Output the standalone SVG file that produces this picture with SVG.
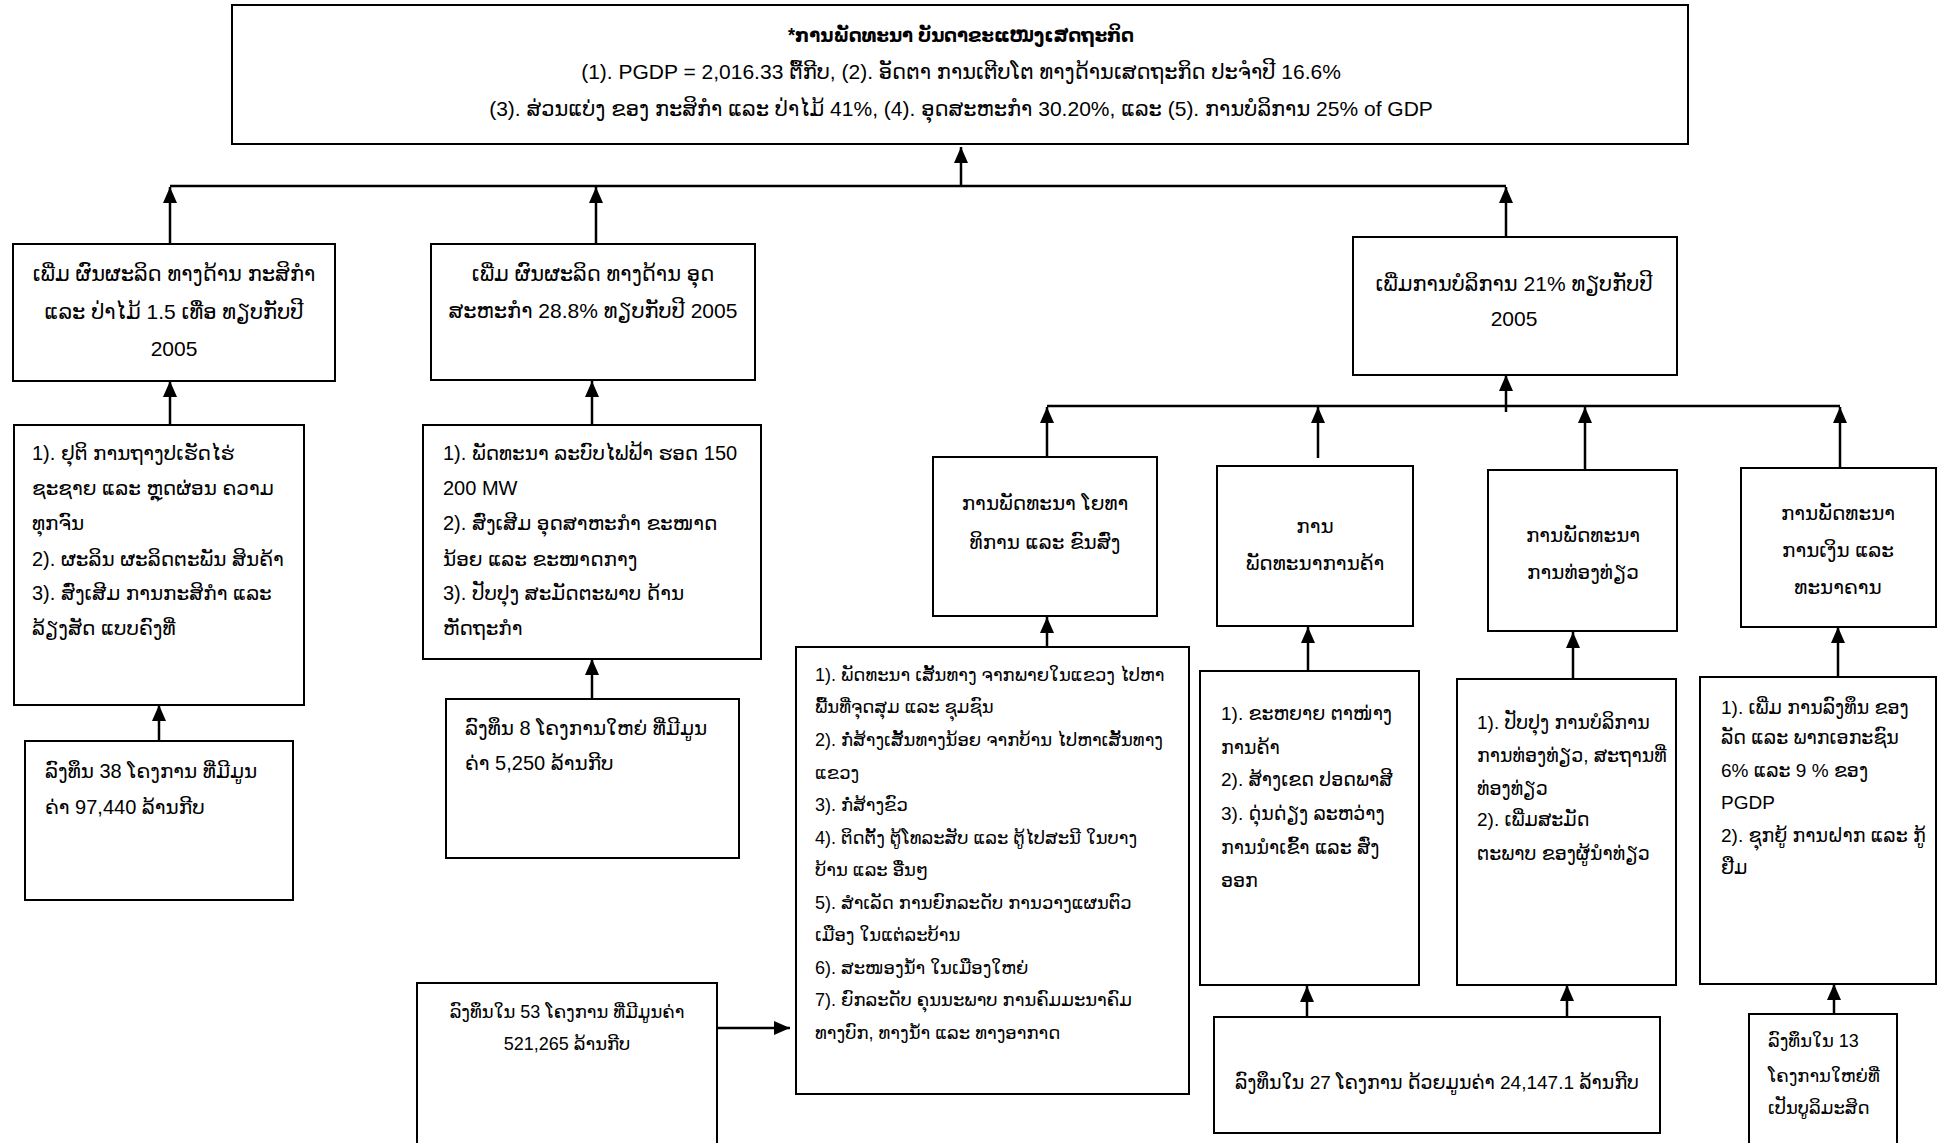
<svg xmlns="http://www.w3.org/2000/svg" width="1942" height="1143" viewBox="0 0 1942 1143">
<defs>
<style>
.box{fill:#fff;stroke:#000;stroke-width:2}
.ln{fill:none;stroke:#000;stroke-width:2.5}
text{font-family:"Liberation Sans","DejaVu Sans",sans-serif;fill:#000}
.c{text-anchor:middle}
.f21{font-size:21px}
.f20{font-size:20px}
.f19{font-size:19px}
.f18{font-size:18px}
.b{font-weight:bold}
</style>
<marker id="ah" markerUnits="userSpaceOnUse" markerWidth="16" markerHeight="14" refX="16" refY="7" orient="auto">
<path d="M0,0 L16,7 L0,14 z" fill="#000"/>
</marker>
</defs>
<rect width="1942" height="1143" fill="#fff"/>

<g id="connectors">
<path class="ln" d="M961,186 V147" marker-end="url(#ah)"/>
<path class="ln" d="M170,186 H1506"/>
<path class="ln" d="M170,244 V187" marker-end="url(#ah)"/>
<path class="ln" d="M596,244 V187" marker-end="url(#ah)"/>
<path class="ln" d="M1506,237 V187" marker-end="url(#ah)"/>
<path class="ln" d="M170,425 V381" marker-end="url(#ah)"/>
<path class="ln" d="M159,741 V705" marker-end="url(#ah)"/>
<path class="ln" d="M592,425 V381" marker-end="url(#ah)"/>
<path class="ln" d="M592,699 V659" marker-end="url(#ah)"/>
<path class="ln" d="M1047,406 H1840"/>
<path class="ln" d="M1506,412 V375" marker-end="url(#ah)"/>
<path class="ln" d="M1047,457 V407" marker-end="url(#ah)"/>
<path class="ln" d="M1318,458 V407" marker-end="url(#ah)"/>
<path class="ln" d="M1585,470 V407" marker-end="url(#ah)"/>
<path class="ln" d="M1840,468 V407" marker-end="url(#ah)"/>
<path class="ln" d="M1047,647 V617" marker-end="url(#ah)"/>
<path class="ln" d="M1308,671 V627" marker-end="url(#ah)"/>
<path class="ln" d="M1573,679 V632" marker-end="url(#ah)"/>
<path class="ln" d="M1838,677 V627" marker-end="url(#ah)"/>
<path class="ln" d="M717,1028 H790" marker-end="url(#ah)"/>
<path class="ln" d="M1307,1017 V986" marker-end="url(#ah)"/>
<path class="ln" d="M1567,1017 V985" marker-end="url(#ah)"/>
<path class="ln" d="M1834,1014 V984" marker-end="url(#ah)"/>
</g>

<g id="top">
<rect class="box" x="232" y="5" width="1456" height="139"/>
<text class="c f20 b" x="961" y="42" textLength="346" lengthAdjust="spacingAndGlyphs">*ການພັດທະນາ ບັນດາຂະແໜງເສດຖະກິດ</text>
<text class="c f21" x="961" y="79">(1). PGDP = 2,016.33 ຕື້ກີບ, (2). ອັດຕາ ການເຕີບໂຕ ທາງດ້ານເສດຖະກິດ ປະຈຳປີ 16.6%</text>
<text class="c f21" x="961" y="116">(3). ສ່ວນແບ່ງ ຂອງ ກະສິກຳ ແລະ ປ່າໄມ້ 41%, (4). ອຸດສະຫະກຳ 30.20%, ແລະ (5). ການບໍລິການ 25% of GDP</text>
</g>

<g id="agri">
<rect class="box" x="13" y="244" width="322" height="137"/>
<text class="c f21" x="174" y="281">ເພີ່ມ ຜົນຜະລິດ ທາງດ້ານ ກະສິກຳ</text>
<text class="c f21" x="174" y="319">ແລະ ປ່າໄມ້ 1.5 ເທື່ອ ທຽບກັບປີ</text>
<text class="c f21" x="174" y="356">2005</text>
</g>

<g id="industry">
<rect class="box" x="431" y="244" width="324" height="136"/>
<text class="c f21" x="593" y="281">ເພີ່ມ ຜົນຜະລິດ ທາງດ້ານ ອຸດ</text>
<text class="c f21" x="593" y="318">ສະຫະກຳ 28.8% ທຽບກັບປີ 2005</text>
</g>

<g id="services">
<rect class="box" x="1353" y="237" width="324" height="138"/>
<text class="c f21" x="1514" y="291">ເພີ່ມການບໍລິການ 21% ທຽບກັບປີ</text>
<text class="c f21" x="1514" y="326">2005</text>
</g>

<g id="agri-list">
<rect class="box" x="14" y="425" width="290" height="280"/>
<text class="f20" x="32" y="460">1). ຢຸຕິ ການຖາງປເຮັດໄຮ່</text>
<text class="f20" x="32" y="495">ຊະຊາຍ ແລະ ຫຼຸດຜ່ອນ ຄວາມ</text>
<text class="f20" x="32" y="530">ທຸກຈົນ</text>
<text class="f20" x="32" y="566">2). ຜະລິນ ຜະລິດຕະພັນ ສິນຄ້າ</text>
<text class="f20" x="32" y="600">3). ສົ່ງເສີມ ການກະສິກຳ ແລະ</text>
<text class="f20" x="32" y="635">ລ້ຽງສັດ ແບບຄົງທີ່</text>
</g>

<g id="agri-invest">
<rect class="box" x="25" y="741" width="268" height="159"/>
<text class="f20" x="45" y="778">ລົງທຶນ 38 ໂຄງການ ທີ່ມີມູນ</text>
<text class="f20" x="45" y="814">ຄ່າ 97,440 ລ້ານກີບ</text>
</g>

<g id="industry-list">
<rect class="box" x="423" y="425" width="338" height="234"/>
<text class="f20" x="443" y="460">1). ພັດທະນາ ລະບົບໄຟຟ້າ ຮອດ 150</text>
<text class="f20" x="443" y="495">200 MW</text>
<text class="f20" x="443" y="530">2). ສົ່ງເສີມ ອຸດສາຫະກຳ ຂະໜາດ</text>
<text class="f20" x="443" y="566">ນ້ອຍ ແລະ ຂະໜາດກາງ</text>
<text class="f20" x="443" y="600">3). ປັບປຸງ ສະມັດຕະພາບ ດ້ານ</text>
<text class="f20" x="443" y="635">ຫັດຖະກຳ</text>
</g>

<g id="industry-invest">
<rect class="box" x="446" y="699" width="293" height="159"/>
<text class="f20" x="465" y="735">ລົງທຶນ 8 ໂຄງການໃຫຍ່ ທີ່ມີມູນ</text>
<text class="f20" x="465" y="770">ຄ່າ 5,250 ລ້ານກີບ</text>
</g>

<g id="transport">
<rect class="box" x="933" y="457" width="224" height="159"/>
<text class="c f20" x="1045" y="510">ການພັດທະນາ ໂຍທາ</text>
<text class="c f20" x="1045" y="549">ທິການ ແລະ ຂົນສົ່ງ</text>
</g>

<g id="trade">
<rect class="box" x="1217" y="466" width="196" height="160"/>
<text class="c f20" x="1315" y="533">ການ</text>
<text class="c f20" x="1315" y="570">ພັດທະນາການຄ້າ</text>
</g>

<g id="tourism">
<rect class="box" x="1488" y="470" width="189" height="161"/>
<text class="c f20" x="1583" y="542">ການພັດທະນາ</text>
<text class="c f20" x="1583" y="579">ການທ່ອງທ່ຽວ</text>
</g>

<g id="finance">
<rect class="box" x="1741" y="468" width="195" height="159"/>
<text class="c f20" x="1838" y="520">ການພັດທະນາ</text>
<text class="c f20" x="1838" y="557">ການເງິນ ແລະ</text>
<text class="c f20" x="1838" y="594">ທະນາຄານ</text>
</g>

<g id="transport-list">
<rect class="box" x="796" y="647" width="393" height="447"/>
<text class="f18" x="815" y="681">1). ພັດທະນາ ເສັ້ນທາງ ຈາກພາຍໃນແຂວງ ໄປຫາ</text>
<text class="f18" x="815" y="713">ພື້ນທີ່ຈຸດສຸມ ແລະ ຊຸມຊົນ</text>
<text class="f18" x="815" y="746">2). ກໍ່ສ້າງເສັ້ນທາງນ້ອຍ ຈາກບ້ານ ໄປຫາເສັ້ນທາງ</text>
<text class="f18" x="815" y="779">ແຂວງ</text>
<text class="f18" x="815" y="811">3). ກໍ່ສ້າງຂົວ</text>
<text class="f18" x="815" y="844">4).  ຕິດຕັ້ງ ຕູ້ໂທລະສັບ ແລະ ຕູ້ໄປສະນີ ໃນບາງ</text>
<text class="f18" x="815" y="876">ບ້ານ ແລະ ອື່ນໆ</text>
<text class="f18" x="815" y="909">5). ສຳເລັດ ການຍົກລະດັບ ການວາງແຜນຕົວ</text>
<text class="f18" x="815" y="941">ເມືອງ ໃນແຕ່ລະບ້ານ</text>
<text class="f18" x="815" y="974">6). ສະໜອງນ້ຳ ໃນເມືອງໃຫຍ່</text>
<text class="f18" x="815" y="1006">7).  ຍົກລະດັບ ຄຸນນະພາບ ການຄົມມະນາຄົມ</text>
<text class="f18" x="815" y="1039">ທາງບົກ, ທາງນ້ຳ ແລະ ທາງອາກາດ</text>
</g>

<g id="transport-invest">
<rect class="box" x="417" y="983" width="300" height="170"/>
<text class="c f18" x="567" y="1018">ລົງທຶນໃນ 53 ໂຄງການ ທີ່ມີມູນຄ່າ</text>
<text class="c f18" x="567" y="1050">521,265 ລ້ານກີບ</text>
</g>

<g id="trade-list">
<rect class="box" x="1200" y="671" width="219" height="314"/>
<text class="f19" x="1221" y="720">1). ຂະຫຍາຍ ຕາໜ່າງ</text>
<text class="f19" x="1221" y="754">ການຄ້າ</text>
<text class="f19" x="1221" y="786">2). ສ້າງເຂດ ປອດພາສີ</text>
<text class="f19" x="1221" y="820">3). ດຸ່ນດ່ຽງ ລະຫວ່າງ</text>
<text class="f19" x="1221" y="854">ການນຳເຂົ້າ ແລະ ສົ່ງ</text>
<text class="f19" x="1221" y="887">ອອກ</text>
</g>

<g id="tourism-list">
<rect class="box" x="1457" y="679" width="219" height="306"/>
<text class="f19" x="1477" y="729">1). ປັບປຸງ ການບໍລິການ</text>
<text class="f19" x="1477" y="762">ການທ່ອງທ່ຽວ, ສະຖານທີ່</text>
<text class="f19" x="1477" y="795">ທ່ອງທ່ຽວ</text>
<text class="f19" x="1477" y="826">2). ເພີ່ມສະມັດ</text>
<text class="f19" x="1477" y="860">ຕະພາບ ຂອງຜູ້ນຳທ່ຽວ</text>
</g>

<g id="finance-list">
<rect class="box" x="1700" y="677" width="236" height="307"/>
<text class="f19" x="1721" y="714">1).  ເພີ່ມ ການລົງທຶນ ຂອງ</text>
<text class="f19" x="1721" y="744">ລັດ ແລະ ພາກເອກະຊົນ</text>
<text class="f19" x="1721" y="777">6% ແລະ 9 % ຂອງ</text>
<text class="f19" x="1721" y="809">PGDP</text>
<text class="f19" x="1721" y="842">2). ຊຸກຍູ້ ການຝາກ ແລະ ກູ້</text>
<text class="f19" x="1721" y="874">ຢືມ</text>
</g>

<g id="services-invest">
<rect class="box" x="1214" y="1017" width="446" height="116"/>
<text class="c f19" x="1437" y="1089">ລົງທຶນໃນ 27 ໂຄງການ ດ້ວຍມູນຄ່າ  24,147.1 ລ້ານກີບ</text>
</g>

<g id="finance-invest">
<rect class="box" x="1749" y="1014" width="148" height="140"/>
<text class="f18" x="1768" y="1047">ລົງທຶນໃນ 13</text>
<text class="f18" x="1768" y="1082">ໂຄງການໃຫຍ່ທີ່</text>
<text class="f18" x="1768" y="1114">ເປັນບູລິມະສິດ</text>
</g>
</svg>
